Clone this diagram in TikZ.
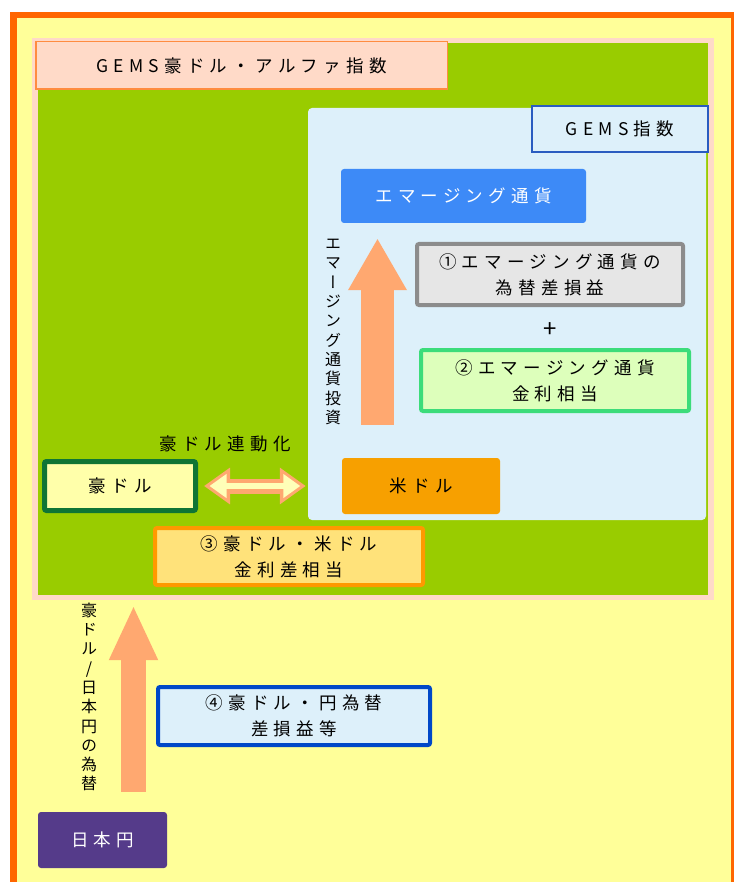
\documentclass[tikz,border=0pt]{standalone}
\usepackage{fontspec}
\setmainfont{Noto Sans CJK JP}
\newfontfamily\jpfont{Noto Sans CJK JP}[LetterSpace=30]
\newfontfamily\jpvert{Noto Sans CJK JP}[RawFeature={+vert}]
\usetikzlibrary{positioning,arrows.meta}

\definecolor{frameorange}{HTML}{FF6600}
\definecolor{paleyellow}{HTML}{FFFF99}
\definecolor{peach}{HTML}{FFDAC8}
\definecolor{leafgreen}{HTML}{99CC00}
\definecolor{skyblue}{HTML}{DDF0FA}
\definecolor{titleedge}{HTML}{FF8C40}
\definecolor{indexblue}{HTML}{2A5CC0}
\definecolor{emblue}{HTML}{3D8AF7}
\definecolor{fxgray}{HTML}{8C8C8C}
\definecolor{fxfill}{HTML}{E6E6E6}
\definecolor{rateedge}{HTML}{3CDC7A}
\definecolor{ratefill}{HTML}{DDFFBB}
\definecolor{usdorange}{HTML}{F7A000}
\definecolor{audedge}{HTML}{0F7535}
\definecolor{audfill}{HTML}{FFFFAA}
\definecolor{arrowsalmon}{HTML}{FFA870}
\definecolor{linkfill}{HTML}{FFFFB8}
\definecolor{spreadedge}{HTML}{FF9900}
\definecolor{spreadfill}{HTML}{FFE27A}
\definecolor{jpyedge}{HTML}{0048C8}
\definecolor{jpypurple}{HTML}{553B8A}

\begin{document}
\begin{tikzpicture}[x=1pt, y=-1pt,
every node/.style={font=\jpfont\fontsize{17.5pt}{26pt}\selectfont, align=center, inner sep=0pt},
titlebox/.style={rectangle, draw=titleedge, line width=1.5pt, fill=peach, minimum width=411.5, minimum height=47.5},
indexbox/.style={rectangle, draw=indexblue, line width=2pt, fill=skyblue, minimum width=176, minimum height=46},
fxbox/.style={rectangle, draw=fxgray, line width=4pt, fill=fxfill, rounded corners=2pt, minimum width=266, minimum height=61},
ratebox/.style={rectangle, draw=rateedge, line width=4pt, fill=ratefill, rounded corners=2pt, minimum width=268, minimum height=61},
audbox/.style={rectangle, draw=audedge, line width=5pt, fill=audfill, rounded corners=2pt, minimum width=151, minimum height=49},
spreadbox/.style={rectangle, draw=spreadedge, line width=4pt, fill=spreadfill, rounded corners=2pt, minimum width=268, minimum height=57},
jpyfxbox/.style={rectangle, draw=jpyedge, line width=4pt, fill=skyblue, rounded corners=2pt, minimum width=272, minimum height=58},
flatbox/.style={rectangle, rounded corners=3pt},
vlabel/.style={font=\jpvert\fontsize{16pt}{19.3pt}\selectfont},
fatarrow/.style={draw=arrowsalmon, line width=33pt, -{Triangle[width=55pt,length=52pt]}},
linkedge/.style={draw=arrowsalmon, line width=15pt, {Triangle[width=35pt,length=26pt]}-{Triangle[width=35pt,length=26pt]}, shorten <=6pt, shorten >=2pt},
linkinner/.style={draw=linkfill, line width=6pt, {Triangle[width=23pt,length=17pt]}-{Triangle[width=23pt,length=17pt]}, shorten <=11.5pt, shorten >=7.5pt},
]
\useasboundingbox (0,0) rectangle (733,882);
\fill[white] (0,0) rectangle (733,882);
\filldraw[draw=frameorange, fill=paleyellow, line width=6.5pt] (13.5,15) rectangle (734,900);
\fill[peach] (32,38) rectangle (714,600);

%Areas
\node[fill=leafgreen, minimum width=670, minimum height=552] (alpha) at (373,319) {};
\node[fill=skyblue, rounded corners=4pt, minimum width=398, minimum height=412] (gems) at (507,314) {};

%Nodes
\node[titlebox]       (alphatitle)  at (241.5,65.5)  {GEMS豪ドル・アルファ指数};
\node[indexbox]       (gemstitle)   at (620,129)     {GEMS指数};
\node[flatbox, fill=emblue, text=white, minimum width=245, minimum height=54] (em) at (463.5,196) {エマージング通貨};
\node[fxbox]          (fx)          at (550,274.5)   {①エマージング通貨の\\為替差損益};
\node[font=\jpfont\fontsize{24pt}{24pt}\selectfont] (plus) at (550,330) {+};
\node[ratebox]        (rate)        [below=41pt of fx, xshift=5pt] {②エマージング通貨\\金利相当};
\node[flatbox, fill=usdorange, minimum width=158, minimum height=56] (usd) at (421,486) {米ドル};
\node[audbox]         (aud)         at (120,486)     {豪ドル};
\node                 (linklabel)   at (225,444)     {豪ドル連動化};
\node[spreadbox]      (spread)      at (289,556.5)   {③豪ドル・米ドル\\金利差相当};
\node[jpyfxbox]       (jpyfx)       at (294,716)     {④豪ドル・円為替\\差損益等};
\node[flatbox, fill=jpypurple, text=white, minimum width=129, minimum height=56] (jpy) at (102.5,840) {日本円};

\node[vlabel]         (emlabel)     at (333,332)     {エ\\マ\\ー\\ジ\\ン\\グ\\通\\貨\\投\\資};
\node[vlabel]         (jpylabel)    at (89,697)      {豪\\ド\\ル\\/\\日\\本\\円\\の\\為\\替};

%Lines
\coordinate (embase) at ([xshift=-43.5pt]usd.north);
\draw[fatarrow, shorten <=33pt, shorten >=15pt] (embase) -- (embase |- em.south);
\coordinate (jpybase) at ([xshift=31pt]jpy.north);
\draw[fatarrow, line width=25pt, -{Triangle[width=45pt,length=55pt]}, shorten <=20pt, shorten >=10pt] (jpybase) -- (jpybase |- alpha.south);
\draw[linkedge] (aud.east) -- (aud.east -| gems.west);
\draw[linkinner] (aud.east) -- (aud.east -| gems.west);
\end{tikzpicture}
\end{document}
